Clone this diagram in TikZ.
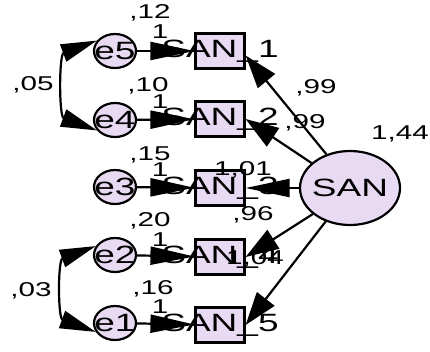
\documentclass[tikz,border=0pt]{standalone}
\usepackage{fontspec}
\setmainfont{Liberation Sans}
\usetikzlibrary{arrows.meta,shapes.geometric}
\definecolor{lav}{RGB}{232,218,243}
\newcommand{\hstretch}[1]{\makebox[0pt]{\scalebox{1.48}[1]{#1}}}

\begin{document}
\begin{tikzpicture}[x=1pt,y=-1pt,
  lat/.style={ellipse,draw,line width=2.2pt,fill=lav,inner sep=0pt,font=\fontsize{25}{25}\selectfont},
  err/.style={lat,minimum width=42pt,minimum height=34pt},
  obs/.style={rectangle,draw,line width=2.2pt,fill=lav,minimum width=49pt,minimum height=35pt,inner sep=0pt,font=\fontsize{25}{25}\selectfont},
  num/.style={inner sep=0pt,font=\fontsize{20}{20}\selectfont},
  harr/.style={line width=2.2pt,-{Triangle[length=44pt,width=18pt]}},
  darr/.style={line width=2.2pt,-{Triangle[length=33pt,width=22pt]}},
  cov/.style={line width=2.2pt,{Triangle[length=36pt,width=18pt]}-{Triangle[length=36pt,width=18pt]}}]
\useasboundingbox (0,0) rectangle (430,351);
% observed variables
\node[obs] (b5) at (220,51) {\hstretch{SAN\_1}};
\node[obs] (b4) at (220,119) {\hstretch{SAN\_2}};
\node[obs] (b3) at (220,188) {\hstretch{SAN\_3}};
\node[obs] (b2) at (220,257) {\hstretch{SAN\_4}};
\node[obs] (b1) at (220,325) {\hstretch{SAN\_5}};
% errors
\node[err] (e5) at (115,51) {\hstretch{e5}};
\node[err] (e4) at (115,120) {\hstretch{e4}};
\node[err] (e3) at (115,187) {\hstretch{e3}};
\node[err] (e2) at (115,255) {\hstretch{e2}};
\node[err] (e1) at (115,323) {\hstretch{e1}};
% latent
\node[lat,minimum width=100pt,minimum height=74pt] (san) at (350,188) {\hstretch{SAN}};
% paths
\draw[harr] (e5) -- (b5);
\draw[harr] (e4) -- (b4);
\draw[harr] (e3) -- (b3);
\draw[harr] (e2) -- (b2);
\draw[harr] (e1) -- (b1);
\draw[darr] (san.125) -- (b5.-10);
\draw[darr] (san.147) -- (b4.east);
\draw[harr] (san.west) -- (b3.east);
\draw[darr] (san.215) -- (b2.east);
\draw[darr] (san.234) -- (b1.east);
% covariances
\draw[cov] (e5.150) .. controls +(-38,14) and +(-38,-14) .. (e4.210);
\draw[cov] (e2.155) .. controls +(-38,14) and +(-38,-14) .. (e1.205);
% estimates
\node[num] (v5) at (150,13) {\hstretch{,12}};
\node[num] (w5) at (160,32) {\hstretch{1}};
\node[num] (v4) at (148,86) {\hstretch{,10}};
\node[num] (w4) at (160,102) {\hstretch{1}};
\node[num] (v3) at (150,155) {\hstretch{,15}};
\node[num] (w3) at (160,170) {\hstretch{1}};
\node[num] (v2) at (150,221) {\hstretch{,20}};
\node[num] (w2) at (160,240) {\hstretch{1}};
\node[num] (v1) at (153,289) {\hstretch{,16}};
\node[num] (w1) at (160,307) {\hstretch{1}};
\node[num] (c54) at (33,85) {\hstretch{,05}};
\node[num] (c21) at (31,291) {\hstretch{,03}};
\node[num] (l5) at (316,88) {\hstretch{,99}};
\node[num] (l4) at (305,123) {\hstretch{,99}};
\node[num] (l3) at (243,170) {\hstretch{1,01}};
\node[num] (l2) at (253,215) {\hstretch{,96}};
\node[num] (l1) at (255,259) {\hstretch{1,04}};
\node[num] (vs) at (400,134) {\hstretch{1,44}};
\end{tikzpicture}
\end{document}
